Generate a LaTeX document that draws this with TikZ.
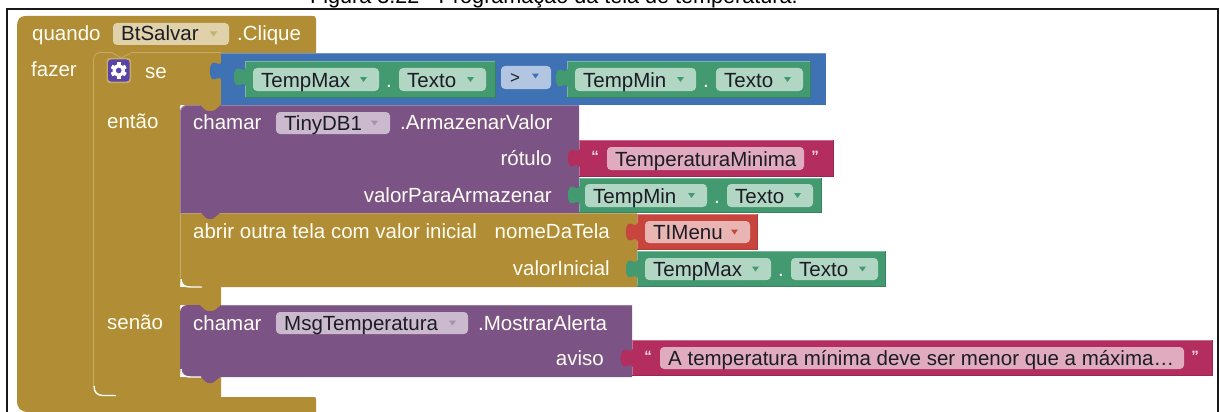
\documentclass[tikz,border=0pt]{standalone}
\usepackage{fontspec}
\setmainfont{Liberation Sans}
\definecolor{gold}{HTML}{B18E35}
\definecolor{goldlt}{HTML}{C4AB68}
\definecolor{goldarr}{HTML}{C8B06E}
\definecolor{goldfld}{HTML}{E0D1AB}
\definecolor{purp}{HTML}{7C5385}
\definecolor{purpfld}{HTML}{CBBACE}
\definecolor{purparr}{HTML}{A98FB0}
\definecolor{blu}{HTML}{3F71B5}
\definecolor{blufld}{HTML}{B2C6E1}
\definecolor{grn}{HTML}{439970}
\definecolor{grnfld}{HTML}{B1D6C4}
\definecolor{pnk}{HTML}{B32D5E}
\definecolor{pnkfld}{HTML}{E1ABBF}
\definecolor{redb}{HTML}{C8453E}
\definecolor{redfld}{HTML}{E9B5B2}
\definecolor{gearbg}{HTML}{5B44A8}
\definecolor{ink}{HTML}{1C1C24}
\tikzset{
  blocktext/.style={anchor=base west,inner sep=0pt,text=white!96!yellow,font=\fontsize{20.5}{23}\selectfont},
  blockright/.style={blocktext,anchor=base east},
  fieldtext/.style={anchor=base west,inner sep=0pt,text=ink,font=\fontsize{20.5}{23}\selectfont},
  quotemark/.style={anchor=center,inner sep=0pt,text=white!85!pnk,font=\fontsize{15}{15}\bfseries\selectfont},
  hair/.style={line width=0.8pt},
  gapline/.style={white,line width=1.4pt}
}
% value-block body with its light top/left and darker bottom/right edges
\newcommand{\valbody}[5]{%
  \fill[#5] (#1,#2) rectangle (#3,#4);
  \draw[hair,#5!70!white] (#1+.5,#4) -- (#1+.5,#2+.5) -- (#3,#2+.5);
  \draw[hair,#5!85!black] (#1,#4-.5) -- (#3-.5,#4-.5) -- (#3-.5,#2);}
% puzzle tab on the left edge x of a value block, from y to y+18
\newcommand{\puzzletab}[3]{%
  \fill[#3] (#1+1,#2) .. controls (#1-2,#2+5) and (#1-5,#2-1) .. (#1-9,#2+1)
     .. controls (#1-12,#2+5) and (#1-12,#2+13) .. (#1-9,#2+17)
     .. controls (#1-5,#2+19) and (#1-2,#2+13) .. (#1+1,#2+18) -- cycle;}
% field: name x1 y1 x2 y2 fill text arrow-colour
\newcommand{\fieldbox}[8]{%
  \fill[#6,rounded corners=4pt] (#2,#3) rectangle (#4,#5);
  \node[fieldtext] (#1) at (#2+8,#5-4) {#7};
  \fill[#8] (#4-19,#3/2+#5/2-2.5) -- (#4-12,#3/2+#5/2-2.5) -- (#4-15.5,#3/2+#5/2+2.5) -- cycle;}
\newcommand{\plainfield}[7]{%
  \fill[#6,rounded corners=4pt] (#2,#3) rectangle (#4,#5);
  \node[fieldtext] (#1) at (#2+8,#5-4) {#7};}
\begin{document}
\begin{tikzpicture}[x=1pt,y=-1pt]
\useasboundingbox (0,0) rectangle (1220,412);
\fill[white] (0,0) rectangle (1220,412);
% caption, cut by the top of the page
\node[anchor=base west,inner sep=0pt,font=\fontsize{21.6}{24}\selectfont,text=black] (caption) at (310,4) {Figura 3.22 - Programação da tela de temperatura.};
% frame
\draw[line width=1.3pt,black!90] (7,412) -- (7,9) -- (1218,9) -- (1218,412);
% outer event block
\fill[gold] (25,16) -- (312,16) .. controls (315,16) .. (316,19) -- (316,53) -- (93,53) -- (93,397) -- (313,397) .. controls (316,397) .. (316,400) -- (316,412) -- (29,412) .. controls (20,412) and (17,408) .. (17,400) -- (17,26) .. controls (17,20) and (20,16) .. (25,16) -- cycle;
% if block
\fill[gold] (93,53) -- (221,53) -- (221,105) -- (180,105) -- (180,287) -- (221,287) -- (221,305) -- (180,305) -- (180,377) -- (221,377) -- (221,397) -- (93,397) -- cycle;
\fill[gold] (198,104) rectangle (221,112);
\fill[gold] (198,304) rectangle (221,312);
\draw[hair,goldlt] (93.5,386) -- (93.5,60) .. controls (93.5,55) and (96,52.5) .. (101,52.5) -- (112,52.5) -- (121,58) -- (132,52.5) -- (221,52.5);
\draw[gapline] (94,386) .. controls (94,392) and (97,395.5) .. (103,395.5) -- (116,395.5);
\fill[gold] (114,394) -- (136,394) -- (125,400.5) -- cycle;
% first statement: abrir outra tela
\fill[gold] (180,213) -- (637,213) -- (637,287) -- (190,287) .. controls (183,287) and (180,284) .. (180,278) -- cycle;
\draw[hair,goldlt] (180.5,278) -- (180.5,213.5) -- (637,213.5);
\draw[gapline] (181,279) .. controls (181,284) and (184,287) .. (190,287) -- (202,287);
\fill[gold] (201,286) -- (221,286) -- (211,293) -- cycle;
% purple 1
\fill[purp] (180,113) .. controls (180,108) and (183,105) .. (188,105) -- (200,105) -- (205,110) .. controls (208,111.5) and (212,111.5) .. (215,110) -- (221,105) -- (579,105) -- (579,213) -- (220,213) -- (214,218) .. controls (212,219.5) and (208,219.5) .. (206,218) -- (201,213) -- (180,213) -- cycle;
\draw[hair,purp!75!white] (180.5,213) -- (180.5,113) .. controls (180.5,108) and (183,105.5) .. (188,105.5) -- (200,105.5);
\draw[hair,purp!75!white] (221,105.5) -- (579,105.5);
% purple 2
\fill[purp] (180,313) .. controls (180,308) and (183,305) .. (188,305) -- (200,305) -- (205,310) .. controls (208,311.5) and (212,311.5) .. (215,310) -- (221,305) -- (632,305) -- (632,377) -- (220,377) -- (214,382) .. controls (212,383.5) and (208,383.5) .. (206,382) -- (201,377) -- (190,377) .. controls (183,377) and (180,374) .. (180,367) -- cycle;
\draw[gapline] (181,369) .. controls (181,374) and (184,377) .. (190,377) -- (201,377);
\draw[hair,purp!75!white] (221,305.5) -- (632,305.5);
% blue comparison block
\fill[blu] (221,53) -- (826,53) -- (826,104.5) -- (221,104.5) -- cycle;
\draw[hair,blu!75!white] (221,53.5) -- (826,53.5);
\puzzletab{221}{62}{blu}
\valbody{245}{61}{496}{98}{grn}
\puzzletab{245}{68}{grn}
\fieldbox{tempmaxa}{253}{68}{379}{91}{grnfld}{TempMax}{grn}
\node[blocktext] (dota) at (386,87) {.};
\fieldbox{textoa}{399}{68}{486}{91}{grnfld}{Texto}{grn}
\fill[blufld,rounded corners=4pt] (501,66) rectangle (551,89);
\node[fieldtext,font=\fontsize{17}{19}\selectfont] (gt) at (510,83) {>};
\fill[blu] (532,73.5) -- (539,73.5) -- (535.5,78.5) -- cycle;
\valbody{567}{61}{811}{98}{grn}
\puzzletab{567}{69}{grn}
\fieldbox{tempmina}{575}{68}{696}{91}{grnfld}{TempMin}{grn}
\node[blocktext] (dotb) at (703,87) {.};
\fieldbox{textob}{716}{68}{803}{91}{grnfld}{Texto}{grn}
% row labels
\node[blocktext] (quando) at (32,41) {quando};
\fieldbox{btsalvar}{113}{23}{229}{45}{goldfld}{BtSalvar}{goldarr}
\node[blocktext] (clique) at (237,41) {.Clique};
\node[blocktext] (fazer) at (31,76) {fazer};
% gear icon
\fill[goldlt,rounded corners=3pt] (106.5,58) rectangle (131,83);
\fill[gearbg,rounded corners=3pt] (108,59.5) rectangle (129.5,81.5);
\foreach \a in {0,60,...,300}{\fill[white,rotate around={\a:(118.7,70.5)}] (116.9,62.5) rectangle (120.5,78.5);}
\fill[white] (118.7,70.5) circle (6.2pt);
\fill[gearbg] (118.7,70.5) circle (2.8pt);
\node[blocktext] (se) at (145,78) {se};
\node[blocktext] (entao) at (107,128) {então};
\node[blocktext] (senao) at (107,329) {senão};
% TinyDB call
\node[blocktext] (chamara) at (193,129) {chamar};
\fieldbox{tinydb}{276}{112}{390}{134}{purpfld}{TinyDB1}{purparr}
\node[blocktext] (armazenar) at (400,129) {.ArmazenarValor};
\node[blockright] (rotulo) at (552,165) {rótulo};
\node[blockright] (valorpara) at (552,202) {valorParaArmazenar};
\valbody{579}{140}{834}{177}{pnk}
\puzzletab{579}{149}{pnk}
\node[quotemark] (qa) at (595,156) {“};
\plainfield{tempminima}{607}{147}{804}{170}{pnkfld}{TemperaturaMinima}
\node[quotemark] (qb) at (815,156) {”};
\valbody{579}{177.5}{822}{213}{grn}
\puzzletab{579}{186}{grn}
\fieldbox{tempminb}{585}{184}{707}{207}{grnfld}{TempMin}{grn}
\node[blocktext] (dotc) at (714,203) {.};
\fieldbox{textoc}{727}{184}{813}{207}{grnfld}{Texto}{grn}
% open screen block
\node[blocktext] (abrir) at (193,238) {abrir outra tela com valor inicial};
\node[blockright] (nomedatela) at (610,238) {nomeDaTela};
\node[blockright] (valorinicial) at (610,275) {valorInicial};
\valbody{637}{214}{758}{250}{redb}
\puzzletab{637}{223}{redb}
\fieldbox{tlmenu}{645}{221}{750}{243}{redfld}{TIMenu}{redb}
\valbody{637}{251}{886}{287}{grn}
\puzzletab{637}{260}{grn}
\fieldbox{tempmaxb}{645}{258}{771}{280}{grnfld}{TempMax}{grn}
\node[blocktext] (dotd) at (778,276) {.};
\fieldbox{textod}{791}{258}{878}{280}{grnfld}{Texto}{grn}
% alert call
\node[blocktext] (chamarb) at (193,330) {chamar};
\fieldbox{msgtemp}{276}{312}{468}{334}{purpfld}{MsgTemperatura}{purparr}
\node[blocktext] (mostrar) at (478,330) {.MostrarAlerta};
\node[blockright] (aviso) at (604,365) {aviso};
\valbody{632}{340}{1213}{376}{pnk}
\puzzletab{632}{349}{pnk}
\node[quotemark] (qc) at (648,356) {“};
\plainfield{alerta}{660}{347}{1184}{369}{pnkfld}{A temperatura mínima deve ser menor que a máxima…}
\node[quotemark] (qd) at (1195,356) {”};
\end{tikzpicture}
\end{document}
